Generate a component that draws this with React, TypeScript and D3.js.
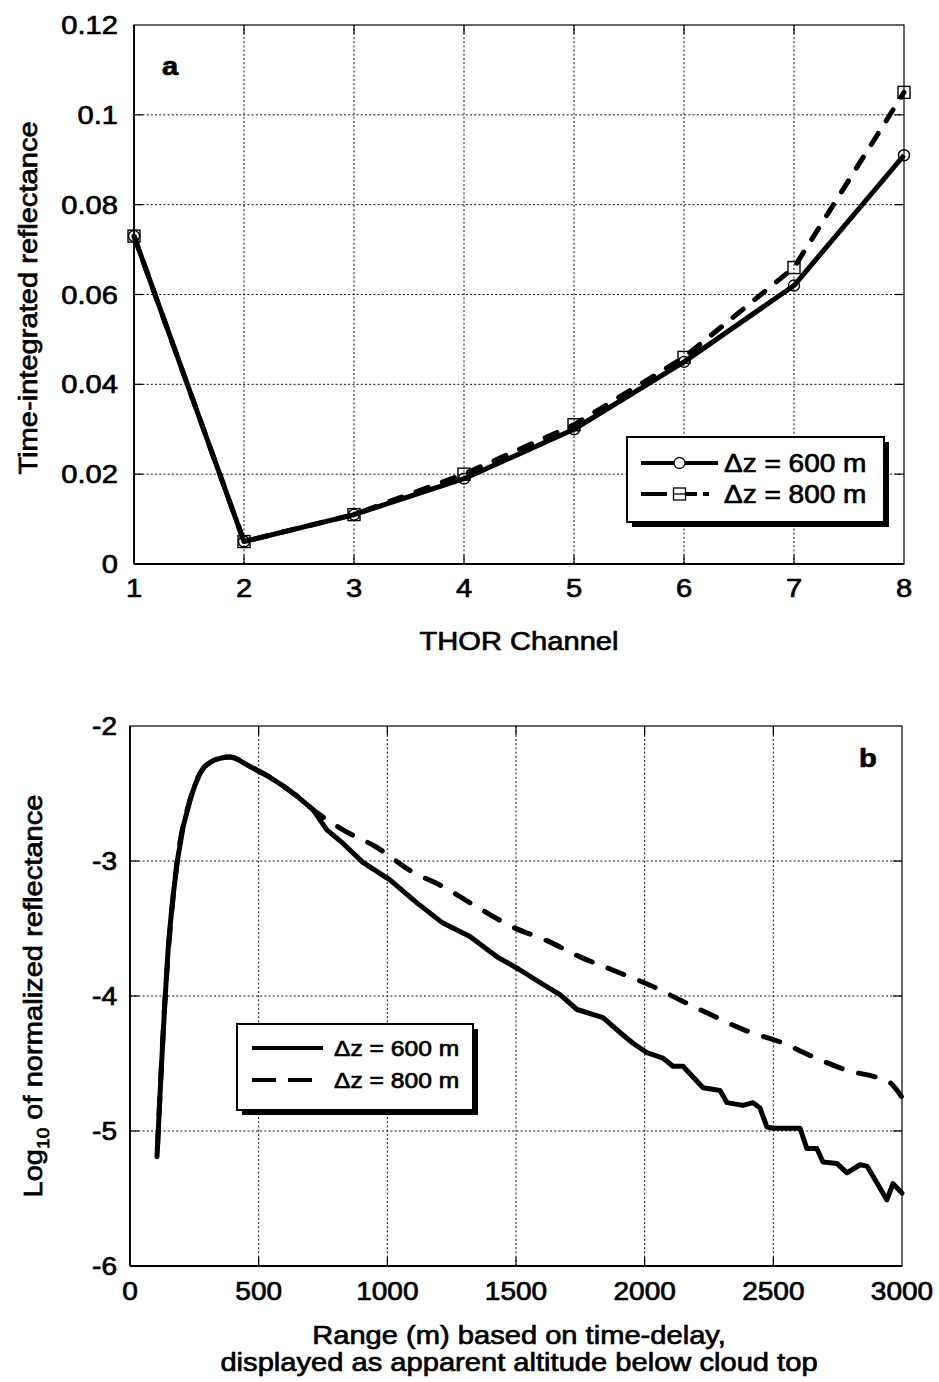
import * as d3 from "d3";

// panel a: time-integrated reflectance per THOR channel
const channels = [1, 2, 3, 4, 5, 6, 7, 8];
const refl600 = [0.073, 0.005, 0.011, 0.019, 0.03, 0.045, 0.062, 0.091];
const refl800 = [0.073, 0.005, 0.011, 0.02, 0.031, 0.046, 0.066, 0.105];
const yTicksA = [0, 0.02, 0.04, 0.06, 0.08, 0.1, 0.12];
const yTickLabelsA = ["0", "0.02", "0.04", "0.06", "0.08", "0.1", "0.12"];

// panel b: log10 normalized reflectance vs range
const range600 = [
  105, 120, 136, 150, 165, 183, 206, 233, 252, 272, 290, 311, 330, 350, 370,
  389, 410, 430, 466, 505, 544, 600, 649, 711, 765, 828, 905, 1010, 1115, 1216,
  1321, 1426, 1510, 1593, 1671, 1737, 1838, 1904, 1955, 2009, 2071, 2110, 2149,
  2227, 2293, 2320, 2382, 2421, 2448, 2475, 2499, 2604, 2630, 2669, 2693, 2747,
  2786, 2837, 2864, 2941, 2965, 3000,
];
const logR600 = [
  -5.19, -4.6, -4.03, -3.6, -3.3, -3.01, -2.75, -2.55, -2.44, -2.35, -2.3,
  -2.27, -2.25, -2.24, -2.23, -2.23, -2.24, -2.26, -2.3, -2.34, -2.38, -2.45,
  -2.52, -2.62, -2.77, -2.87, -3.01, -3.14, -3.31, -3.46, -3.56, -3.71, -3.8,
  -3.9, -3.99, -4.1, -4.16, -4.27, -4.35, -4.42, -4.46, -4.52, -4.52, -4.68,
  -4.7, -4.79, -4.81, -4.79, -4.83, -4.97, -4.98, -4.98, -5.13, -5.13, -5.23,
  -5.24, -5.31, -5.25, -5.26, -5.51, -5.39, -5.46,
];
const range800 = [
  105, 136, 183, 233, 311, 389, 466, 544, 649, 711, 770, 828, 960, 1088, 1216,
  1348, 1488, 1620, 1749, 1892, 2021, 2149, 2281, 2398, 2526, 2654, 2786,
  2914, 2953, 3000,
];
const logR800 = [
  -5.19, -4.03, -3.01, -2.55, -2.27, -2.23, -2.3, -2.38, -2.52, -2.62, -2.7,
  -2.77, -2.9, -3.07, -3.19, -3.34, -3.49, -3.59, -3.71, -3.82, -3.92, -4.04,
  -4.16, -4.26, -4.34, -4.45, -4.55, -4.61, -4.64, -4.75,
];
const xTicksB = [0, 500, 1000, 1500, 2000, 2500, 3000];
const yTicksB = [-6, -5, -4, -3, -2];

const legendLabels = ["\u0394z = 600 m", "\u0394z = 800 m"];

const FONT = "'Liberation Sans', Arial, Helvetica, sans-serif";
const SX = 1.12; // scanned glyphs are a bit wider than Arial
const INK = 0.7; // extra stroke so the type looks as heavy as the scan

function T({
  x,
  y,
  size,
  anchor = "start",
  rotate = 0,
  bold = false,
  children,
}: {
  x: number;
  y: number;
  size: number;
  anchor?: string;
  rotate?: number;
  bold?: boolean;
  children: any;
}) {
  return (
    <text
      transform={`translate(${x},${y}) rotate(${rotate}) scale(${SX},1)`}
      fontFamily={FONT}
      fontSize={size}
      fontWeight={bold ? "bold" : "normal"}
      textAnchor={anchor}
      fill="#000"
      stroke="#000"
      strokeWidth={INK}
    >
      {children}
    </text>
  );
}

function Legend({
  x0,
  y0,
  w,
  h,
  rows,
  sample,
  textX,
  size,
  markers,
}: {
  x0: number;
  y0: number;
  w: number;
  h: number;
  rows: number[];
  sample: [number, number];
  textX: number;
  size: number;
  markers: boolean;
}) {
  const mid = (sample[0] + sample[1]) / 2;
  return (
    <g>
      <rect x={x0 + 5} y={y0 + 5} width={w} height={h} fill="#000" />
      <rect x={x0} y={y0} width={w} height={h} fill="#fff" stroke="#000" strokeWidth={2} />
      <line x1={sample[0]} x2={sample[1]} y1={rows[0]} y2={rows[0]} stroke="#000" strokeWidth={4} />
      <line
        x1={sample[0]}
        x2={sample[1]}
        y1={rows[1]}
        y2={rows[1]}
        stroke="#000"
        strokeWidth={4}
        strokeDasharray={markers ? "26,12,18,6,6" : "24,12"}
      />
      {markers && (
        <>
          <circle cx={mid} cy={rows[0]} r={5.5} fill="#fff" stroke="#000" strokeWidth={1.3} />
          <rect x={mid - 6} y={rows[1] - 6} width={12} height={12} fill="#fff" stroke="#000" strokeWidth={1.3} />
          <line x1={mid - 6} x2={mid + 6} y1={rows[1]} y2={rows[1]} stroke="#000" strokeWidth={1.3} />
        </>
      )}
      {legendLabels.map((l, i) => (
        <T key={l} x={textX} y={rows[i] + size * 0.36} size={size}>
          {l}
        </T>
      ))}
    </g>
  );
}

export default function App() {
  // panel a scales
  const xA = d3.scaleLinear().domain([1, 8]).range([134, 904]);
  const yA = d3.scaleLinear().domain([0, 0.12]).range([564, 25]);
  // panel b scales
  const xB = d3.scaleLinear().domain([0, 3000]).range([130, 902]);
  const yB = d3.scaleLinear().domain([-6, -2]).range([1266, 726]);

  const lineA = d3
    .line<number>()
    .x((_, i) => xA(channels[i]))
    .y((d) => yA(d));

  const pts600 = range600.map((r, i) => [r, logR600[i]] as [number, number]);
  const pts800 = range800.map((r, i) => [r, logR800[i]] as [number, number]);
  const line600 = d3
    .line<[number, number]>()
    .x((d) => xB(d[0]))
    .y((d) => yB(d[1]));
  const line800 = d3
    .line<[number, number]>()
    .x((d) => xB(d[0]))
    .y((d) => yB(d[1]))
    .curve(d3.curveMonotoneX);

  const grid = { stroke: "#111", strokeWidth: 1, strokeDasharray: "2,2.2" };
  const tickLen = 9;

  const [a0, a1] = xA.range();
  const [aB, aT] = yA.range();
  const [b0, b1] = xB.range();
  const [bB, bT] = yB.range();

  return (
    <svg
      width={939}
      height={1382}
      style={{ position: "absolute", left: 0, top: 0, background: "#fff" }}
    >
      <rect width={939} height={1382} fill="#fff" />

      {/* ---------- panel a ---------- */}
      <g>
        {channels.slice(1, -1).map((c) => (
          <line key={c} x1={xA(c)} x2={xA(c)} y1={aB} y2={aT} {...grid} />
        ))}
        {yTicksA.slice(1, -1).map((v) => (
          <line key={v} x1={a0} x2={a1} y1={yA(v)} y2={yA(v)} {...grid} />
        ))}
        {channels.slice(1, -1).map((c) => (
          <g key={"t" + c}>
            <line x1={xA(c)} x2={xA(c)} y1={aB} y2={aB - tickLen} stroke="#000" strokeWidth={1.2} />
            <line x1={xA(c)} x2={xA(c)} y1={aT} y2={aT + tickLen} stroke="#000" strokeWidth={1.2} />
          </g>
        ))}
        {yTicksA.slice(1, -1).map((v) => (
          <g key={"t" + v}>
            <line x1={a0} x2={a0 + tickLen} y1={yA(v)} y2={yA(v)} stroke="#000" strokeWidth={1.2} />
            <line x1={a1} x2={a1 - tickLen} y1={yA(v)} y2={yA(v)} stroke="#000" strokeWidth={1.2} />
          </g>
        ))}
        <rect x={a0} y={aT} width={a1 - a0} height={aB - aT} fill="none" stroke="#000" strokeWidth={1.2} />
        <line x1={a0} x2={a0} y1={aT} y2={aB} stroke="#000" strokeWidth={1.8} />
        <line x1={a0} x2={a1} y1={aB} y2={aB} stroke="#000" strokeWidth={1.8} />

        <path d={lineA(refl600) || ""} fill="none" stroke="#000" strokeWidth={5} strokeLinejoin="round" />
        <path
          d={lineA(refl800) || ""}
          fill="none"
          stroke="#000"
          strokeWidth={5}
          strokeLinecap="round"
          strokeDasharray="13,15"
        />
        {refl600.map((v, i) => (
          <circle key={"c" + i} cx={xA(channels[i])} cy={yA(v)} r={5.5} fill="none" stroke="#000" strokeWidth={1.4} />
        ))}
        {refl800.map((v, i) => (
          <rect
            key={"s" + i}
            x={xA(channels[i]) - 6}
            y={yA(v) - 6}
            width={12}
            height={12}
            fill="none"
            stroke="#000"
            strokeWidth={1.4}
          />
        ))}

        {yTicksA.map((v, i) => (
          <T key={"yl" + v} x={118} y={yA(v) + 9} size={26} anchor="end">
            {yTickLabelsA[i]}
          </T>
        ))}
        {channels.map((c) => (
          <T key={"xl" + c} x={xA(c)} y={597} size={26} anchor="middle">
            {c}
          </T>
        ))}
        <T x={519} y={650} size={26} anchor="middle">
          THOR Channel
        </T>
        <T x={37} y={298} size={26} anchor="middle" rotate={-90}>
          Time-integrated reflectance
        </T>
        <T x={162} y={75} size={26} bold>
          a
        </T>

        <Legend
          x0={627}
          y0={437}
          w={257}
          h={85}
          rows={[463, 494]}
          sample={[641, 718]}
          textX={724}
          size={25}
          markers
        />
      </g>

      {/* ---------- panel b ---------- */}
      <g>
        {xTicksB.slice(1, -1).map((v) => (
          <line key={v} x1={xB(v)} x2={xB(v)} y1={bB} y2={bT} {...grid} />
        ))}
        {yTicksB.slice(1, -1).map((v) => (
          <line key={v} x1={b0} x2={b1} y1={yB(v)} y2={yB(v)} {...grid} />
        ))}
        {xTicksB.slice(1, -1).map((v) => (
          <g key={"t" + v}>
            <line x1={xB(v)} x2={xB(v)} y1={bB} y2={bB - tickLen} stroke="#000" strokeWidth={1.2} />
            <line x1={xB(v)} x2={xB(v)} y1={bT} y2={bT + tickLen} stroke="#000" strokeWidth={1.2} />
          </g>
        ))}
        {yTicksB.slice(1, -1).map((v) => (
          <g key={"t" + v}>
            <line x1={b0} x2={b0 + tickLen} y1={yB(v)} y2={yB(v)} stroke="#000" strokeWidth={1.2} />
            <line x1={b1} x2={b1 - tickLen} y1={yB(v)} y2={yB(v)} stroke="#000" strokeWidth={1.2} />
          </g>
        ))}
        <rect x={b0} y={bT} width={b1 - b0} height={bB - bT} fill="none" stroke="#000" strokeWidth={1.2} />
        <line x1={b0} x2={b0} y1={bT} y2={bB} stroke="#000" strokeWidth={1.8} />
        <line x1={b0} x2={b1} y1={bB} y2={bB} stroke="#000" strokeWidth={1.8} />

        <path
          d={line600(pts600) || ""}
          fill="none"
          stroke="#000"
          strokeWidth={5}
          strokeLinejoin="round"
          strokeLinecap="round"
        />
        <path
          d={line800(pts800) || ""}
          fill="none"
          stroke="#000"
          strokeWidth={5}
          strokeLinecap="round"
          strokeDasharray="17,17"
          strokeDashoffset={-8}
        />

        {xTicksB.map((v) => (
          <T key={"xl" + v} x={xB(v)} y={1300} size={25} anchor="middle">
            {v}
          </T>
        ))}
        {yTicksB.map((v) => (
          <T key={"yl" + v} x={117} y={yB(v) + 9} size={25} anchor="end">
            {v}
          </T>
        ))}
        <T x={519} y={1344} size={26} anchor="middle">
          Range (m) based on time-delay,
        </T>
        <T x={519} y={1371} size={26} anchor="middle">
          displayed as apparent altitude below cloud top
        </T>
        <text
          transform={`translate(42,996) rotate(-90) scale(${SX},1)`}
          fontFamily={FONT}
          fontSize={26}
          textAnchor="middle"
          fill="#000"
          stroke="#000"
          strokeWidth={INK}
        >
          Log
          <tspan fontSize={17} dy={7}>
            10
          </tspan>
          <tspan dy={-7}> of normalized reflectance</tspan>
        </text>
        <T x={859} y={767} size={26} bold>
          b
        </T>

        <Legend
          x0={237}
          y0={1024}
          w={236}
          h={86}
          rows={[1048, 1080]}
          sample={[252, 323]}
          textX={334}
          size={22}
          markers={false}
        />
      </g>
    </svg>
  );
}
